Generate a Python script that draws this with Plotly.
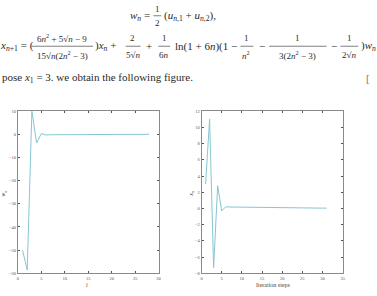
import plotly.graph_objects as go

W, H = 377, 296

# ---- data ----
left_i = list(range(1, 29))
left_w = [-50, -58.5, 10, -3.8, 0.3, -0.3, -0.2, -0.2, -0.15, -0.1, -0.1, -0.1, -0.08, -0.06,
          -0.05, -0.05, -0.04, -0.03, -0.03, -0.02, -0.02, -0.02, -0.01, -0.01, -0.01, 0, 0, 0]
right_n = list(range(1, 32))
right_x = [3, 11, -7.3, 2.8, -0.3, 0.2, 0.18, 0.17, 0.16, 0.15, 0.14, 0.13, 0.12, 0.12, 0.11, 0.1,
           0.1, 0.09, 0.09, 0.08, 0.08, 0.07, 0.07, 0.06, 0.06, 0.06, 0.05, 0.05, 0.05, 0.04, 0.04]

left_xticks = [0, 5, 10, 15, 20, 25, 30]
left_yticks = [-60, -50, -40, -30, -20, -10, 0, 10]
right_xticks = [0, 5, 10, 15, 20, 25, 30, 35]
right_yticks = [-8, -6, -4, -2, 0, 2, 4, 6, 8, 10, 12]

LINE_COL = "#86c6d2"
SERIF = "Times New Roman, Liberation Serif, DejaVu Serif, serif"
TXT = "#2a2a2a"

fig = go.Figure()
fig.add_trace(go.Scatter(x=left_i, y=left_w, mode="lines", line=dict(color=LINE_COL, width=1),
                         xaxis="x", yaxis="y", showlegend=False))
fig.add_trace(go.Scatter(x=right_n, y=right_x, mode="lines", line=dict(color=LINE_COL, width=1),
                         xaxis="x2", yaxis="y2", showlegend=False))

def px(x, y):
    return x / W, 1 - y / H

axis_common = dict(showgrid=False, zeroline=False, showline=True, mirror="ticks",
                   linecolor="#8a8a8a", linewidth=1, ticks="inside", ticklen=2,
                   tickcolor="#555", tickwidth=0.6,
                   tickfont=dict(family=SERIF, size=4.5, color="#555"))

l0, l1 = 17 / W, 159.3 / W
r0, r1 = 202.7 / W, 345.3 / W
yb, yt = 1 - 276 / H, 1 - 111 / H

fig.update_layout(
    width=W, height=H, margin=dict(l=0, r=0, t=0, b=0),
    paper_bgcolor="white", plot_bgcolor="white",
    font=dict(family=SERIF),
    xaxis=dict(domain=[l0, l1], range=[0, 30], tickvals=left_xticks, anchor="y", **axis_common),
    yaxis=dict(domain=[yb, yt], range=[-60, 10], tickvals=left_yticks, anchor="x", **axis_common),
    xaxis2=dict(domain=[r0, r1], range=[0, 35], tickvals=right_xticks, anchor="y2", **axis_common),
    yaxis2=dict(domain=[yb, yt], range=[-8, 12], tickvals=right_yticks, anchor="x2", **axis_common),
)

anns = []
shapes = []

def txt(x, y, s, size=11, anchor="center", angle=0, color=TXT):
    xx, yy = px(x, y)
    anns.append(dict(x=xx, y=yy, xref="paper", yref="paper", text=s, showarrow=False,
                     xanchor=anchor, yanchor="middle", textangle=angle,
                     font=dict(family=SERIF, size=size, color=color)))

def bar(x0, x1, y):
    a, b = px(x0, y)
    c, _ = px(x1, y)
    shapes.append(dict(type="line", xref="paper", yref="paper", x0=a, x1=c, y0=b, y1=b,
                       line=dict(color=TXT, width=0.6)))

# line 1
txt(128, 14, "<i>w<sub>n</sub></i> =", anchor="left")
txt(158, 7, "1", size=9)
bar(154, 162, 14)
txt(158, 21, "2", size=9)
txt(163, 14, "(<i>u<sub>n</sub></i><sub>,1</sub> + <i>u<sub>n</sub></i><sub>,2</sub>),", anchor="left")

# line 2
txt(-3, 45, "<i>x<sub>n</sub></i><sub>+1</sub> = (", anchor="left")
txt(62, 36.5, "6<i>n</i><sup>2</sup> + 5√<i>n</i> − 9", size=9)
bar(31, 93, 45)
txt(62, 54, "15√<i>n</i>(2<i>n</i><sup>2</sup> − 3)", size=9)
txt(93, 45, ")<i>x<sub>n</sub></i> +", anchor="left")
txt(133, 36.5, "2", size=9)
bar(126, 141, 45)
txt(133, 54, "5√<i>n</i>", size=9)
txt(145, 45, "+", anchor="left")
txt(165, 36.5, "1", size=9)
bar(159, 171, 45)
txt(165, 54, "6<i>n</i>", size=9)
txt(174, 45, "ln(1 + 6<i>n</i>)(1 −", anchor="left")
txt(248, 36.5, "1", size=9)
bar(242, 255, 45)
txt(248, 54, "<i>n</i><sup>2</sup>", size=9)
txt(259, 45, "−", anchor="left")
txt(300, 36.5, "1", size=9)
bar(271, 329, 45)
txt(300, 54, "3(2<i>n</i><sup>2</sup> − 3)", size=9)
txt(332, 45, "−", anchor="left")
txt(352, 36.5, "1", size=9)
bar(343, 361, 45)
txt(352, 54, "2√<i>n</i>", size=9)
txt(362, 45, ")<i>w<sub>n</sub></i>", anchor="left")

# line 3
txt(-1, 77, "pose <i>x</i><sub>1</sub> = 3. we obtain the following figure.", anchor="left")
txt(371, 77, "[", color="#777")

# axis titles
txt(87, 288, "<i>i</i>", size=6, color="#444")
txt(3, 195, "<i>w<sub>n</sub></i>", size=6, angle=-90, color="#444")
txt(275, 288, "Iteration steps", size=6, color="#444")
txt(193, 195, "<i>x<sub>n</sub></i>", size=6, angle=-90, color="#444")

fig.update_layout(annotations=anns, shapes=shapes)
fig.write_html("out.html")
